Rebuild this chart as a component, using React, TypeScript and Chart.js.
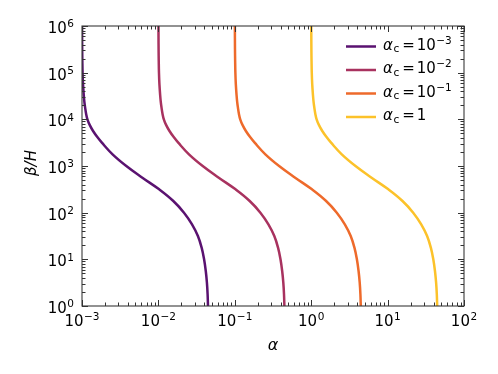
import React, { useEffect, useRef } from "react";
import { Chart, registerables } from "chart.js";

Chart.register(...registerables);

// β/H values (shared sampling of the curves)
const betaH = [1e6, 5.62e5, 3.16e5, 1.78e5, 1e5, 5.62e4, 3.16e4, 2.37e4, 1.78e4, 1.33e4, 1e4, 7.5e3, 5.62e3, 4.22e3, 3.16e3, 1.78e3, 1e3, 562, 316, 178, 100, 56.2, 31.6, 17.8, 10, 5.62, 3.16, 1.78, 1];

// α values for each curve
const alphaC1e3 = [1.0023e-3, 1.0035e-3, 1.0058e-3, 1.0104e-3, 1.0174e-3, 1.0316e-3, 1.0568e-3, 1.074e-3, 1.099e-3, 1.13e-3, 1.1776e-3, 1.265e-3, 1.3964e-3, 1.578e-3, 1.8197e-3, 2.512e-3, 3.802e-3, 6.166e-3, 1.023e-2, 1.567e-2, 2.163e-2, 2.754e-2, 3.289e-2, 3.681e-2, 3.963e-2, 4.169e-2, 4.315e-2, 4.406e-2, 4.457e-2];
const alphaC1e2 = [1.0023e-2, 1.0035e-2, 1.0058e-2, 1.0104e-2, 1.0174e-2, 1.0316e-2, 1.0568e-2, 1.074e-2, 1.099e-2, 1.13e-2, 1.1776e-2, 1.265e-2, 1.3964e-2, 1.578e-2, 1.8197e-2, 2.512e-2, 3.802e-2, 6.166e-2, 1.023e-1, 1.567e-1, 2.163e-1, 2.754e-1, 3.289e-1, 3.681e-1, 3.963e-1, 4.169e-1, 4.315e-1, 4.406e-1, 4.457e-1];
const alphaC1e1 = [1.0023e-1, 1.0035e-1, 1.0058e-1, 1.0104e-1, 1.0174e-1, 1.0316e-1, 1.0568e-1, 1.074e-1, 1.099e-1, 1.13e-1, 1.1776e-1, 1.265e-1, 1.3964e-1, 1.578e-1, 1.8197e-1, 2.512e-1, 3.802e-1, 6.166e-1, 1.023, 1.567, 2.163, 2.754, 3.289, 3.681, 3.963, 4.169, 4.315, 4.406, 4.457];
const alphaC1 = [1.0023, 1.0035, 1.0058, 1.0104, 1.0174, 1.0316, 1.0568, 1.074, 1.099, 1.13, 1.1776, 1.265, 1.3964, 1.578, 1.8197, 2.512, 3.802, 6.166, 10.23, 15.67, 21.63, 27.54, 32.89, 36.81, 39.63, 41.69, 43.15, 44.06, 44.57];

const seriesAlpha = [alphaC1e3, alphaC1e2, alphaC1e1, alphaC1];
const seriesExp = ["−3", "−2", "−1", ""]; // legend exponent of αc (empty → "1")
const seriesColors = ["#5a1270", "#a8325f", "#ee6a2b", "#fcc22a"];

const xDecades = [-3, -2, -1, 0, 1, 2];
const yDecades = [0, 1, 2, 3, 4, 5, 6];
const xMin = 1e-3, xMax = 1e2, yMin = 1, yMax = 1e6;

const FONT = "'DejaVu Sans', sans-serif";

function supText(n: number): string {
  return n < 0 ? "−" + Math.abs(n) : String(n);
}

function drawPow(ctx: CanvasRenderingContext2D, exp: string, x: number, baseline: number, align: "center" | "right") {
  ctx.font = `15px ${FONT}`;
  const wb = ctx.measureText("10").width;
  ctx.font = `10.5px ${FONT}`;
  const we = ctx.measureText(exp).width;
  const total = wb + we + 0.5;
  const x0 = align === "center" ? x - total / 2 : x - total;
  ctx.textAlign = "left";
  ctx.textBaseline = "alphabetic";
  ctx.font = `15px ${FONT}`;
  ctx.fillText("10", x0, baseline);
  ctx.font = `10.5px ${FONT}`;
  ctx.fillText(exp, x0 + wb + 0.5, baseline - 5.6);
}

const framePlugin = {
  id: "framePlugin",
  afterDatasetsDraw(chart: any) {
    const ctx: CanvasRenderingContext2D = chart.ctx;
    const { left, right, top, bottom } = chart.chartArea;
    const xs = chart.scales.x, ys = chart.scales.y;
    ctx.save();
    ctx.strokeStyle = "#3a3a3a";
    ctx.lineWidth = 1.1;
    ctx.strokeRect(left, top, right - left, bottom - top);
    ctx.lineWidth = 1;
    ctx.strokeStyle = "#333";
    for (let d = -3; d <= 2; d++) {
      for (let k = 1; k <= 9; k++) {
        const v = k * Math.pow(10, d);
        if (v < xMin * 0.999 || v > xMax * 1.001) continue;
        const px = Math.round(xs.getPixelForValue(v)) + 0.5;
        const len = k === 1 ? 6 : 3.5;
        ctx.beginPath();
        ctx.moveTo(px, bottom);
        ctx.lineTo(px, bottom - len);
        ctx.moveTo(px, top);
        ctx.lineTo(px, top + len);
        ctx.stroke();
      }
    }
    for (let d = 0; d <= 6; d++) {
      for (let k = 1; k <= 9; k++) {
        const v = k * Math.pow(10, d);
        if (v < yMin * 0.999 || v > yMax * 1.001) continue;
        const py = Math.round(ys.getPixelForValue(v)) + 0.5;
        const len = k === 1 ? 6 : 3.5;
        ctx.beginPath();
        ctx.moveTo(left, py);
        ctx.lineTo(left + len, py);
        ctx.moveTo(right, py);
        ctx.lineTo(right - len, py);
        ctx.stroke();
      }
    }
    ctx.fillStyle = "#000";
    xDecades.forEach((d) => {
      const px = xs.getPixelForValue(Math.pow(10, d));
      drawPow(ctx, supText(d), px, bottom + 20, "center");
    });
    yDecades.forEach((d) => {
      const py = ys.getPixelForValue(Math.pow(10, d));
      drawPow(ctx, supText(d), left - 8, py + 7, "right");
    });
    ctx.font = `italic 16px ${FONT}`;
    ctx.textAlign = "center";
    ctx.textBaseline = "alphabetic";
    ctx.fillText("α", (left + right) / 2, 350);
    ctx.save();
    ctx.translate(36, 163);
    ctx.rotate(-Math.PI / 2);
    ctx.font = `italic 15px ${FONT}`;
    ctx.fillText("β/H", 0, 0);
    ctx.restore();
    const rowY = [46.5, 70, 93.5, 117];
    chart.data.datasets.forEach((ds: any, i: number) => {
      const y = rowY[i];
      ctx.strokeStyle = ds.borderColor;
      ctx.lineWidth = 2.5;
      ctx.beginPath();
      ctx.moveTo(346, y);
      ctx.lineTo(376, y);
      ctx.stroke();
      ctx.fillStyle = "#000";
      ctx.textAlign = "left";
      let x = 383;
      const base = y + 3;
      ctx.font = `italic 15px ${FONT}`;
      ctx.fillText("α", x, base);
      x += ctx.measureText("α").width + 0.5;
      ctx.font = `10.5px ${FONT}`;
      ctx.fillText("c", x, base + 2.5);
      x += ctx.measureText("c").width + 3;
      ctx.font = `15px ${FONT}`;
      ctx.fillText("=", x, base);
      x += ctx.measureText("=").width + 2;
      const e = seriesExp[i];
      if (e) {
        ctx.fillText("10", x, base);
        x += ctx.measureText("10").width + 0.5;
        ctx.font = `10.5px ${FONT}`;
        ctx.fillText(e, x, base - 5.6);
      } else {
        ctx.fillText("1", x, base);
      }
    });
    ctx.restore();
  },
};

export default function App() {
  const ref = useRef<HTMLCanvasElement>(null);
  useEffect(() => {
    if (!ref.current) return;
    const labels = seriesExp.map((e) => (e ? `αc = 10${e}` : "αc = 1"));
    const chart = new Chart(ref.current, {
      type: "line",
      data: {
        datasets: seriesAlpha.map((arr, i) => ({
          label: labels[i],
          data: arr.map((a, j) => ({ x: a, y: betaH[j] })),
          borderColor: seriesColors[i],
          backgroundColor: seriesColors[i],
          borderWidth: 2.5,
          pointRadius: 0,
          fill: false,
          tension: 0.4,
        })),
      },
      options: {
        animation: false,
        responsive: true,
        maintainAspectRatio: false,
        layout: { padding: { top: 26, right: 34, left: 0, bottom: 0 } },
        plugins: { legend: { display: false }, tooltip: { enabled: false } },
        scales: {
          x: {
            type: "logarithmic",
            min: xMin,
            max: xMax,
            ticks: { display: false },
            grid: { display: false },
            border: { display: false },
            afterFit: (s: any) => { s.height = 68; },
          },
          y: {
            type: "logarithmic",
            min: yMin,
            max: yMax,
            ticks: { display: false },
            grid: { display: false },
            border: { display: false },
            afterFit: (s: any) => { s.width = 82; },
          },
        },
      },
      plugins: [framePlugin],
    });
    return () => chart.destroy();
  }, []);
  return (
    <div style={{ position: "fixed", left: 0, top: 0, width: 498, height: 374, background: "#fff" }}>
      <canvas ref={ref} />
    </div>
  );
}
